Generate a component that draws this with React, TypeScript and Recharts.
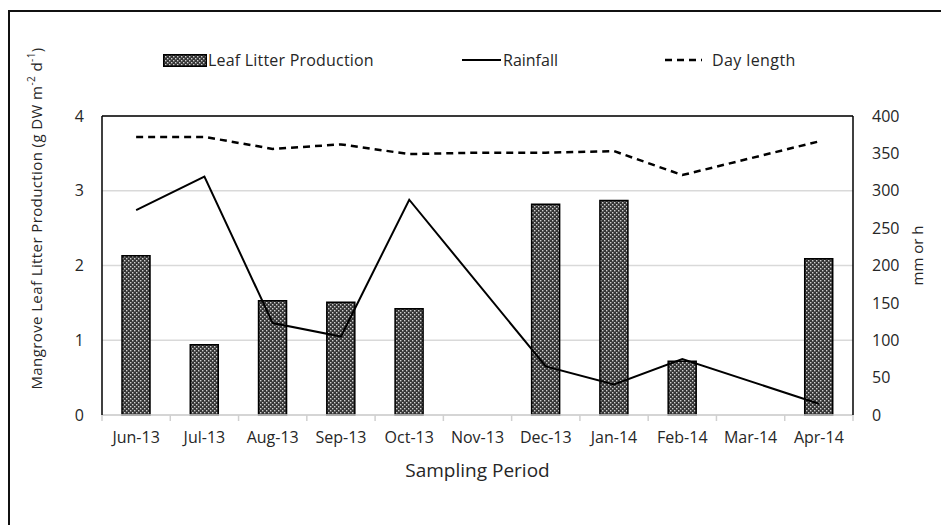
import React from 'react';
import { ComposedChart, Bar, Line, XAxis, YAxis, CartesianGrid, ReferenceLine, Label } from 'recharts';

const months = ['Jun-13', 'Jul-13', 'Aug-13', 'Sep-13', 'Oct-13', 'Nov-13', 'Dec-13', 'Jan-14', 'Feb-14', 'Mar-14', 'Apr-14'];
const leafLitter = [2.13, 0.94, 1.53, 1.51, 1.42, null, 2.82, 2.87, 0.72, null, 2.09];
const rainfall = [274, 319, 123, 105, 288, null, 65, 41, 75, null, 15];
const dayLength = [372, 372, 356, 362, 349, 351, 351, 353, 321, null, 366];
const leftTicks = [0, 1, 2, 3, 4];
const rightTicks = [0, 50, 100, 150, 200, 250, 300, 350, 400];

const data = months.map((m, i) => ({
  month: m,
  leaf: leafLitter[i],
  rain: rainfall[i],
  day: dayLength[i],
}));

const FONT = "'Open Sans', sans-serif";
const TXT = '#262626';

const PatternDefs = ({ id }: { id: string }) => (
  <defs>
    <pattern id={id} width="4" height="4" patternUnits="userSpaceOnUse">
      <rect width="4" height="4" fill="#353535" />
      <rect x="0" y="0" width="1.4" height="1.4" fill="#d0d0d0" />
      <rect x="2" y="2" width="1.4" height="1.4" fill="#d0d0d0" />
    </pattern>
  </defs>
);

const XTick = (props: any) => {
  const { x, y, payload, index, visibleTicksCount, width } = props;
  const half = payload && typeof payload.offset === 'number' && payload.offset > 0
    ? payload.offset
    : width / visibleTicksCount / 2;
  const isLast = index === visibleTicksCount - 1;
  return (
    <g>
      <line x1={x - half} x2={x - half} y1={y} y2={y + 6} stroke="#d0d0d0" strokeWidth={1.5} />
      {isLast && <line x1={x + half} x2={x + half} y1={y} y2={y + 6} stroke="#d0d0d0" strokeWidth={1.5} />}
      <text x={x} y={y + 28} textAnchor="middle" fontSize={16} fill={TXT} fontFamily={FONT}>
        {payload.value}
      </text>
    </g>
  );
};

const LeftLabel = (props: any) => {
  const vb = props.viewBox || { x: 0, y: 0, width: 0, height: 0 };
  const cx = vb.x + 36;
  const cy = vb.y + vb.height / 2 - 47;
  return (
    <text
      x={cx}
      y={cy}
      transform={`rotate(-90 ${cx} ${cy})`}
      textAnchor="middle"
      dominantBaseline="central"
      fontSize={15}
      letterSpacing={0.4}
      fill={TXT}
      fontFamily={FONT}
    >
      Mangrove Leaf Litter Production (g DW m
      <tspan dy={-5} fontSize={10}>-2</tspan>
      <tspan dy={5}> d</tspan>
      <tspan dy={-5} fontSize={10}>-1</tspan>
      <tspan dy={5}>)</tspan>
    </text>
  );
};

const RightLabel = (props: any) => {
  const vb = props.viewBox || { x: 0, y: 0, width: 0, height: 0 };
  const cx = vb.x + 64;
  const cy = vb.y + vb.height / 2 - 10;
  return (
    <text
      x={cx}
      y={cy}
      transform={`rotate(-90 ${cx} ${cy})`}
      textAnchor="middle"
      dominantBaseline="central"
      fontSize={15}
      fill={TXT}
      fontFamily={FONT}
    >
      mm or h
    </text>
  );
};

export default function App() {
  return (
    <div style={{ position: 'absolute', left: 0, top: 0, width: 941, height: 525, background: '#fff', fontFamily: FONT, overflow: 'hidden' }}>
      <div style={{ position: 'absolute', left: 8, top: 10, width: 960, height: 560, borderLeft: '2px solid #111', borderTop: '2px solid #111' }} />
      {/* Legend */}
      <div style={{ position: 'absolute', left: 0, top: 50, height: 20, width: 941, fontSize: 16, color: TXT }}>
        <svg style={{ position: 'absolute', left: 163, top: 4 }} width={44} height={13}>
          <PatternDefs id="legPat" />
          <rect x={0.75} y={0.75} width={42.5} height={11.5} fill="url(#legPat)" stroke="#000" strokeWidth={1.5} />
        </svg>
        <span style={{ position: 'absolute', left: 208, top: 0, lineHeight: '20px', whiteSpace: 'nowrap', letterSpacing: 0.2 }}>Leaf Litter Production</span>
        <svg style={{ position: 'absolute', left: 462, top: 0 }} width={40} height={20}>
          <line x1={0} x2={39} y1={10} y2={10} stroke="#000" strokeWidth={2} />
        </svg>
        <span style={{ position: 'absolute', left: 503, top: 0, lineHeight: '20px', whiteSpace: 'nowrap' }}>Rainfall</span>
        <svg style={{ position: 'absolute', left: 665, top: 0 }} width={38} height={20}>
          <line x1={0} x2={37} y1={10} y2={10} stroke="#000" strokeWidth={2.5} strokeDasharray="7 5" />
        </svg>
        <span style={{ position: 'absolute', left: 712, top: 0, lineHeight: '20px', whiteSpace: 'nowrap', letterSpacing: 0.4 }}>Day length</span>
      </div>
      <div style={{ position: 'absolute', left: 0, top: 0 }}>
        <ComposedChart width={941} height={525} data={data} margin={{ top: 116, right: 0, left: 0, bottom: 40 }}>
          <PatternDefs id="barPat" />
          <CartesianGrid vertical={false} stroke="#d9d9d9" strokeWidth={1.5} yAxisId="left" />
          <XAxis
            dataKey="month"
            height={70}
            axisLine={{ stroke: '#d0d0d0', strokeWidth: 1.5 }}
            tickLine={false}
            tickSize={0}
            tickMargin={0}
            interval={0}
            tick={<XTick />}
          >
            <Label value="Sampling Period" position="insideBottom" offset={8} style={{ fontSize: 19, fill: TXT, fontFamily: FONT }} />
          </XAxis>
          <YAxis
            yAxisId="left"
            orientation="left"
            width={102}
            domain={[0, 4]}
            ticks={leftTicks}
            axisLine={{ stroke: '#000', strokeWidth: 1.5 }}
            tickLine={false}
            tickSize={6}
            tickMargin={12}
            tick={{ fontSize: 16, fill: TXT, fontFamily: FONT }}
            label={<LeftLabel />}
          />
          <YAxis
            yAxisId="right"
            orientation="right"
            width={88}
            domain={[0, 400]}
            ticks={rightTicks}
            axisLine={{ stroke: '#000', strokeWidth: 1.5 }}
            tickLine={false}
            tickSize={6}
            tickMargin={13}
            tick={{ fontSize: 16, fill: TXT, fontFamily: FONT }}
            label={<RightLabel />}
          />
          <ReferenceLine yAxisId="left" y={4} stroke="#000" strokeWidth={1.5} />
          <Bar yAxisId="left" dataKey="leaf" barSize={28} fill="url(#barPat)" stroke="#000" strokeWidth={1.5} isAnimationActive={false} />
          <Line yAxisId="right" dataKey="rain" stroke="#000" strokeWidth={2} dot={false} connectNulls type="linear" isAnimationActive={false} />
          <Line yAxisId="right" dataKey="day" stroke="#000" strokeWidth={2.5} strokeDasharray="7 5" dot={false} connectNulls type="linear" isAnimationActive={false} />
        </ComposedChart>
      </div>
    </div>
  );
}
